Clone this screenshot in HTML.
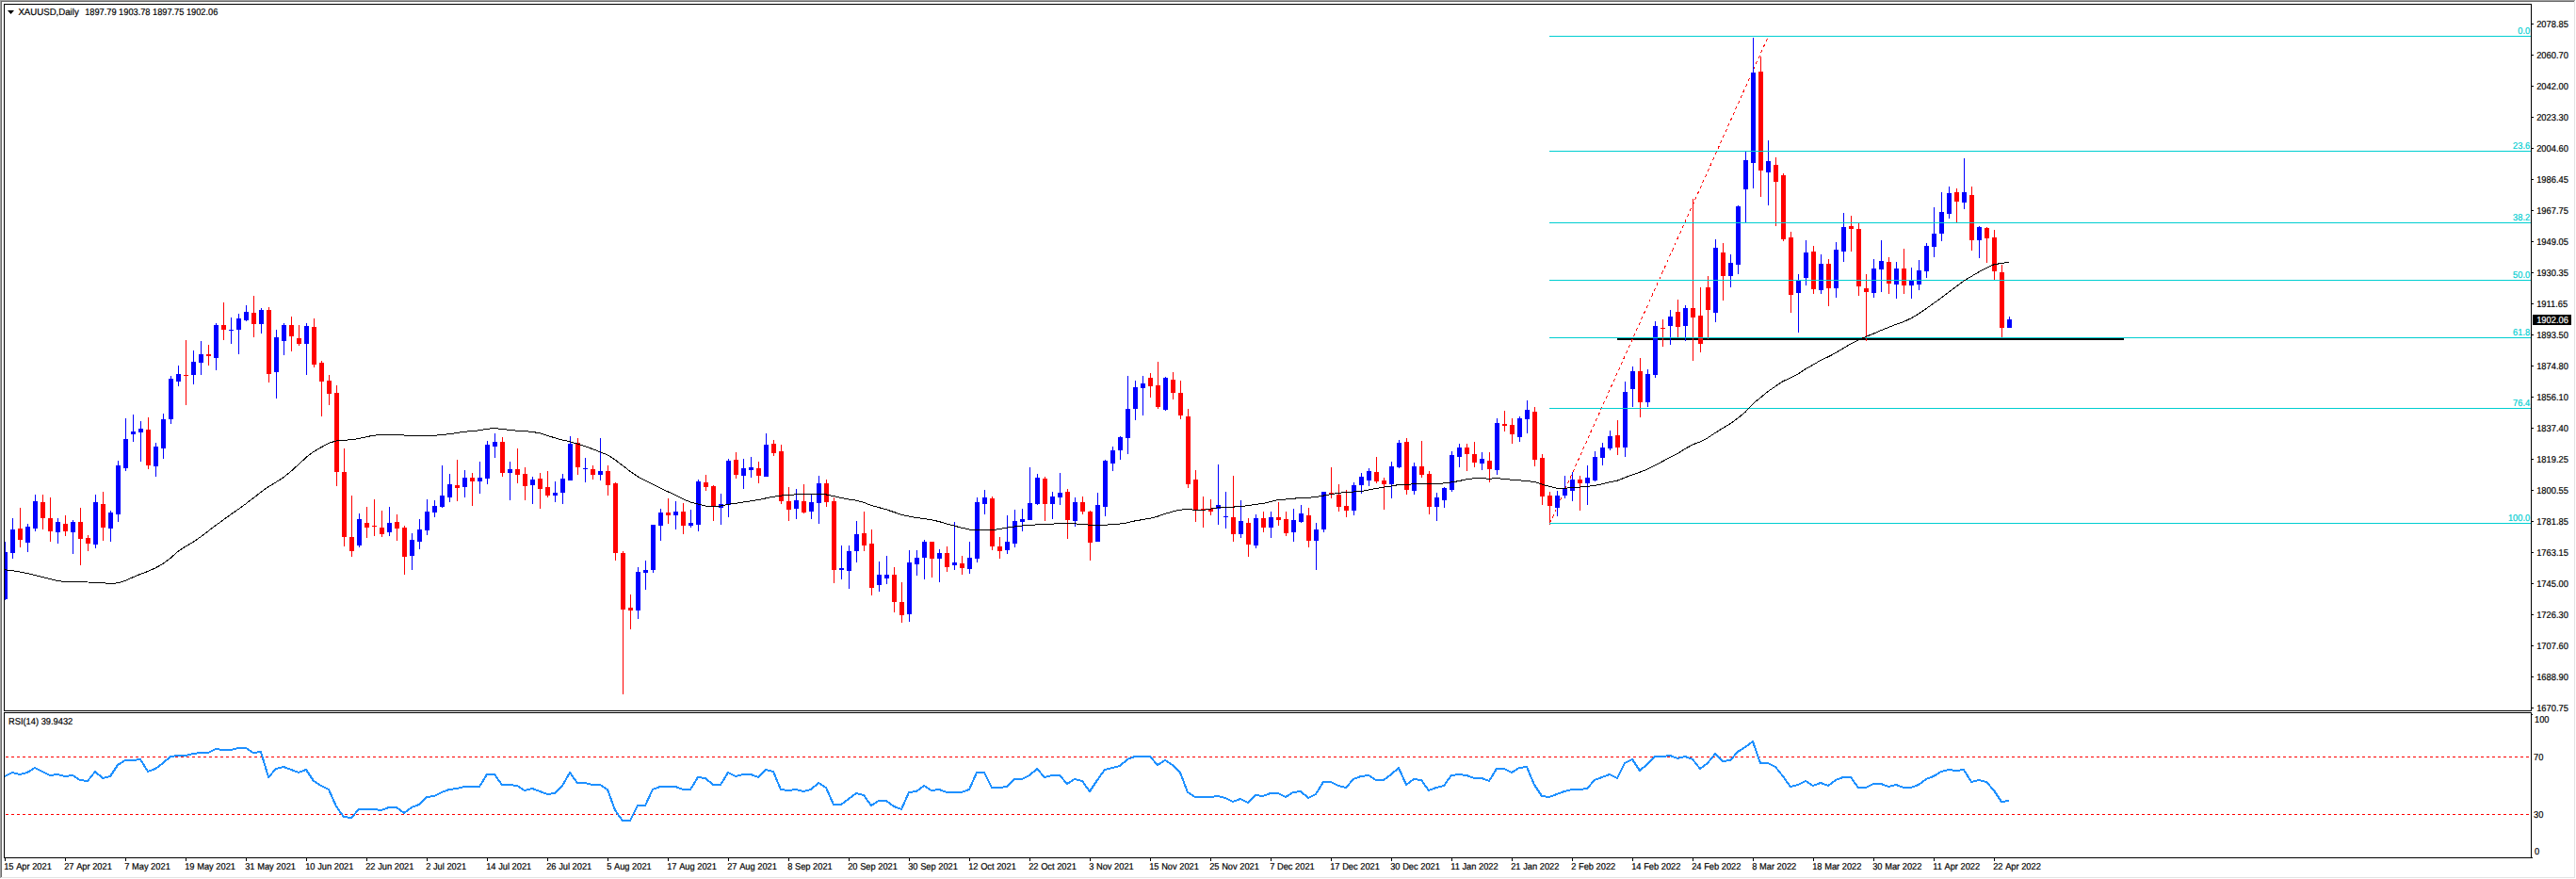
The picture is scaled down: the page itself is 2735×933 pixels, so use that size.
<!DOCTYPE html>
<html><head><meta charset="utf-8"><title>XAUUSD,Daily</title>
<style>html,body{margin:0;padding:0;background:#fff;}body{width:2735px;height:933px;overflow:hidden;font-family:"Liberation Sans",sans-serif;}svg{display:block;position:absolute;left:0;top:0;}text{font-family:"Liberation Sans",sans-serif;font-size:10.0px;text-rendering:geometricPrecision;stroke-width:0.2px;}</style>
</head><body>
<svg width="2735" height="933" viewBox="0 0 2735 933">
<rect x="0" y="0" width="2735" height="933" fill="#ffffff"/>
<g shape-rendering="crispEdges">
<rect x="0" y="0" width="2734" height="1" fill="#a0a0a0"/>
<rect x="0" y="0" width="1" height="932" fill="#a0a0a0"/>
<rect x="1" y="1" width="2732" height="1" fill="#696969"/>
<rect x="1" y="1" width="1" height="930" fill="#696969"/>
<rect x="2733" y="1" width="1" height="931" fill="#e3e3e3"/>
<rect x="1" y="931" width="2733" height="1" fill="#e3e3e3"/>
<rect x="4" y="4" width="2684" height="1" fill="#000"/>
<rect x="4" y="4" width="1" height="907" fill="#000"/>
<rect x="2687" y="4" width="1" height="907" fill="#000"/>
<rect x="4" y="754" width="2684" height="1" fill="#000"/>
<rect x="4" y="755" width="2684" height="1" fill="#fff"/>
<rect x="4" y="756" width="2684" height="1" fill="#000"/>
<rect x="4" y="910" width="2685" height="1" fill="#000"/>
<rect x="2688" y="25" width="2" height="1" fill="#000"/>
<rect x="2688" y="58" width="2" height="1" fill="#000"/>
<rect x="2688" y="91" width="2" height="1" fill="#000"/>
<rect x="2688" y="124" width="2" height="1" fill="#000"/>
<rect x="2688" y="157" width="2" height="1" fill="#000"/>
<rect x="2688" y="190" width="2" height="1" fill="#000"/>
<rect x="2688" y="223" width="2" height="1" fill="#000"/>
<rect x="2688" y="256" width="2" height="1" fill="#000"/>
<rect x="2688" y="289" width="2" height="1" fill="#000"/>
<rect x="2688" y="322" width="2" height="1" fill="#000"/>
<rect x="2688" y="355" width="2" height="1" fill="#000"/>
<rect x="2688" y="388" width="2" height="1" fill="#000"/>
<rect x="2688" y="421" width="2" height="1" fill="#000"/>
<rect x="2688" y="454" width="2" height="1" fill="#000"/>
<rect x="2688" y="487" width="2" height="1" fill="#000"/>
<rect x="2688" y="520" width="2" height="1" fill="#000"/>
<rect x="2688" y="553" width="2" height="1" fill="#000"/>
<rect x="2688" y="586" width="2" height="1" fill="#000"/>
<rect x="2688" y="619" width="2" height="1" fill="#000"/>
<rect x="2688" y="652" width="2" height="1" fill="#000"/>
<rect x="2688" y="685" width="2" height="1" fill="#000"/>
<rect x="2688" y="718" width="2" height="1" fill="#000"/>
<rect x="2688" y="751" width="2" height="1" fill="#000"/>
<rect x="2688" y="758" width="1" height="1" fill="#000"/>
<rect x="5" y="911" width="1" height="3" fill="#000"/>
<rect x="69" y="911" width="1" height="3" fill="#000"/>
<rect x="133" y="911" width="1" height="3" fill="#000"/>
<rect x="197" y="911" width="1" height="3" fill="#000"/>
<rect x="261" y="911" width="1" height="3" fill="#000"/>
<rect x="325" y="911" width="1" height="3" fill="#000"/>
<rect x="389" y="911" width="1" height="3" fill="#000"/>
<rect x="453" y="911" width="1" height="3" fill="#000"/>
<rect x="517" y="911" width="1" height="3" fill="#000"/>
<rect x="581" y="911" width="1" height="3" fill="#000"/>
<rect x="645" y="911" width="1" height="3" fill="#000"/>
<rect x="709" y="911" width="1" height="3" fill="#000"/>
<rect x="773" y="911" width="1" height="3" fill="#000"/>
<rect x="837" y="911" width="1" height="3" fill="#000"/>
<rect x="901" y="911" width="1" height="3" fill="#000"/>
<rect x="965" y="911" width="1" height="3" fill="#000"/>
<rect x="1029" y="911" width="1" height="3" fill="#000"/>
<rect x="1093" y="911" width="1" height="3" fill="#000"/>
<rect x="1157" y="911" width="1" height="3" fill="#000"/>
<rect x="1221" y="911" width="1" height="3" fill="#000"/>
<rect x="1285" y="911" width="1" height="3" fill="#000"/>
<rect x="1349" y="911" width="1" height="3" fill="#000"/>
<rect x="1413" y="911" width="1" height="3" fill="#000"/>
<rect x="1477" y="911" width="1" height="3" fill="#000"/>
<rect x="1541" y="911" width="1" height="3" fill="#000"/>
<rect x="1605" y="911" width="1" height="3" fill="#000"/>
<rect x="1669" y="911" width="1" height="3" fill="#000"/>
<rect x="1733" y="911" width="1" height="3" fill="#000"/>
<rect x="1797" y="911" width="1" height="3" fill="#000"/>
<rect x="1861" y="911" width="1" height="3" fill="#000"/>
<rect x="1925" y="911" width="1" height="3" fill="#000"/>
<rect x="1989" y="911" width="1" height="3" fill="#000"/>
<rect x="2053" y="911" width="1" height="3" fill="#000"/>
<rect x="2117" y="911" width="1" height="3" fill="#000"/>
<rect x="1717" y="359" width="538" height="2" fill="#000"/>
</g>
<g shape-rendering="crispEdges" stroke="#ff0000" stroke-width="1" fill="none">
<line x1="6" y1="803.5" x2="2687" y2="803.5" stroke-dasharray="3 3"/>
<line x1="6" y1="864.5" x2="2687" y2="864.5" stroke-dasharray="3 3"/>
</g>
<line x1="1645.5" y1="555.5" x2="1877.5" y2="38.5" stroke="#ff0000" stroke-width="1" stroke-dasharray="3.3 3.3" shape-rendering="crispEdges" fill="none"/>
<g shape-rendering="crispEdges">
<path fill="#0000ff" d="M5 575h1v62h-1zM5 586h3v50h-3zM13 550h1v43h-1zM11 562h5v25h-5zM29 556h1v30h-1zM27 559h5v17h-5zM37 525h1v39h-1zM35 532h5v29h-5zM61 550h1v27h-1zM59 554h5v11h-5zM77 552h1v36h-1zM75 554h5v11h-5zM101 525h1v57h-1zM99 533h5v45h-5zM117 542h1v33h-1zM115 544h5v17h-5zM125 489h1v65h-1zM123 494h5v52h-5zM133 444h1v56h-1zM131 466h5v31h-5zM141 440h1v29h-1zM139 458h5v3h-5zM149 447h1v43h-1zM147 455h5v4h-5zM165 470h1v36h-1zM163 474h5v21h-5zM173 439h1v48h-1zM171 445h5v31h-5zM181 399h1v51h-1zM179 402h5v43h-5zM189 388h1v22h-1zM187 397h5v8h-5zM205 372h1v36h-1zM203 384h5v14h-5zM213 362h1v36h-1zM211 376h5v9h-5zM229 343h1v50h-1zM227 345h5v35h-5zM245 337h1v28h-1zM243 350h5v1h-5zM253 333h1v43h-1zM251 338h5v12h-5zM261 324h1v17h-1zM259 331h5v9h-5zM277 327h1v27h-1zM275 329h5v15h-5zM293 350h1v73h-1zM291 358h5v37h-5zM301 343h1v34h-1zM299 345h5v17h-5zM325 343h1v55h-1zM323 346h5v19h-5zM381 545h1v36h-1zM379 551h5v28h-5zM413 538h1v31h-1zM411 555h5v10h-5zM437 566h1v39h-1zM435 573h5v17h-5zM445 551h1v32h-1zM443 562h5v13h-5zM453 530h1v38h-1zM451 543h5v20h-5zM461 531h1v18h-1zM459 537h5v7h-5zM469 494h1v45h-1zM467 526h5v12h-5zM477 503h1v30h-1zM475 514h5v14h-5zM493 499h1v29h-1zM491 507h5v10h-5zM509 490h1v34h-1zM507 507h5v4h-5zM517 468h1v46h-1zM515 472h5v36h-5zM525 460h1v26h-1zM523 469h5v5h-5zM541 490h1v41h-1zM539 498h5v4h-5zM565 506h1v29h-1zM563 509h5v6h-5zM589 511h1v22h-1zM587 523h5v3h-5zM597 503h1v32h-1zM595 508h5v15h-5zM605 463h1v47h-1zM603 471h5v39h-5zM621 486h1v26h-1zM619 497h5v1h-5zM637 465h1v45h-1zM635 500h5v4h-5zM677 602h1v55h-1zM675 607h5v41h-5zM685 595h1v31h-1zM683 605h5v3h-5zM693 557h1v51h-1zM691 557h5v48h-5zM701 540h1v34h-1zM699 544h5v14h-5zM717 532h1v30h-1zM715 543h5v4h-5zM733 541h1v19h-1zM731 555h5v3h-5zM741 509h1v55h-1zM739 511h5v46h-5zM765 524h1v33h-1zM763 535h5v4h-5zM773 487h1v62h-1zM771 489h5v47h-5zM789 487h1v32h-1zM787 497h5v8h-5zM797 485h1v22h-1zM795 496h5v3h-5zM813 460h1v46h-1zM811 472h5v34h-5zM845 519h1v32h-1zM843 531h5v9h-5zM861 525h1v26h-1zM859 533h5v10h-5zM869 505h1v51h-1zM867 513h5v21h-5zM893 579h1v36h-1zM891 603h5v2h-5zM901 579h1v46h-1zM899 585h5v21h-5zM909 553h1v44h-1zM907 567h5v18h-5zM933 596h1v32h-1zM931 610h5v11h-5zM941 590h1v30h-1zM939 610h5v4h-5zM965 584h1v76h-1zM963 597h5v55h-5zM973 584h1v27h-1zM971 592h5v7h-5zM981 573h1v42h-1zM979 575h5v17h-5zM997 583h1v35h-1zM995 587h5v6h-5zM1013 554h1v51h-1zM1011 597h5v3h-5zM1029 575h1v34h-1zM1027 592h5v12h-5zM1037 528h1v69h-1zM1035 533h5v60h-5zM1045 520h1v26h-1zM1043 528h5v7h-5zM1069 547h1v41h-1zM1067 575h5v9h-5zM1077 541h1v40h-1zM1075 553h5v24h-5zM1085 540h1v24h-1zM1083 551h5v3h-5zM1093 496h1v56h-1zM1091 534h5v18h-5zM1101 503h1v33h-1zM1099 507h5v28h-5zM1117 522h1v29h-1zM1115 527h5v8h-5zM1125 502h1v34h-1zM1123 523h5v5h-5zM1141 528h1v31h-1zM1139 533h5v20h-5zM1165 523h1v52h-1zM1163 536h5v39h-5zM1173 488h1v60h-1zM1171 489h5v49h-5zM1181 474h1v26h-1zM1179 478h5v14h-5zM1189 463h1v25h-1zM1187 464h5v14h-5zM1197 399h1v83h-1zM1195 434h5v31h-5zM1205 404h1v42h-1zM1203 411h5v23h-5zM1213 399h1v42h-1zM1211 407h5v5h-5zM1237 400h1v36h-1zM1235 401h5v34h-5zM1293 493h1v64h-1zM1291 536h5v4h-5zM1301 522h1v39h-1zM1299 548h5v1h-5zM1317 531h1v40h-1zM1315 553h5v14h-5zM1333 546h1v36h-1zM1331 550h5v29h-5zM1349 543h1v28h-1zM1347 549h5v11h-5zM1373 540h1v35h-1zM1371 552h5v13h-5zM1381 536h1v19h-1zM1379 545h5v9h-5zM1397 555h1v50h-1zM1395 562h5v12h-5zM1405 522h1v43h-1zM1403 522h5v40h-5zM1437 512h1v35h-1zM1435 515h5v27h-5zM1445 502h1v22h-1zM1443 506h5v9h-5zM1453 497h1v19h-1zM1451 500h5v10h-5zM1477 490h1v39h-1zM1475 495h5v19h-5zM1485 467h1v30h-1zM1483 470h5v26h-5zM1501 491h1v34h-1zM1499 495h5v26h-5zM1525 523h1v30h-1zM1523 528h5v10h-5zM1533 517h1v22h-1zM1531 518h5v13h-5zM1541 479h1v43h-1zM1539 483h5v37h-5zM1549 471h1v25h-1zM1547 475h5v10h-5zM1573 480h1v19h-1zM1571 487h5v5h-5zM1589 444h1v60h-1zM1587 449h5v50h-5zM1613 442h1v27h-1zM1611 444h5v20h-5zM1621 425h1v35h-1zM1619 435h5v10h-5zM1653 521h1v27h-1zM1651 526h5v13h-5zM1661 505h1v24h-1zM1659 519h5v7h-5zM1669 501h1v31h-1zM1667 509h5v12h-5zM1685 494h1v42h-1zM1683 507h5v6h-5zM1693 479h1v32h-1zM1691 485h5v25h-5zM1701 470h1v24h-1zM1699 475h5v11h-5zM1709 457h1v21h-1zM1707 463h5v13h-5zM1725 405h1v80h-1zM1723 416h5v59h-5zM1733 389h1v43h-1zM1731 394h5v19h-5zM1749 392h1v40h-1zM1747 397h5v30h-5zM1757 341h1v60h-1zM1755 346h5v52h-5zM1773 329h1v37h-1zM1771 336h5v10h-5zM1789 324h1v38h-1zM1787 327h5v19h-5zM1821 254h1v88h-1zM1819 263h5v69h-5zM1837 270h1v35h-1zM1835 279h5v14h-5zM1845 218h1v73h-1zM1843 219h5v62h-5zM1853 161h1v75h-1zM1851 170h5v31h-5zM1861 40h1v160h-1zM1859 77h5v96h-5zM1877 149h1v69h-1zM1875 171h5v12h-5zM1909 291h1v62h-1zM1907 298h5v13h-5zM1917 255h1v48h-1zM1915 268h5v27h-5zM1933 270h1v42h-1zM1931 280h5v28h-5zM1949 257h1v59h-1zM1947 265h5v41h-5zM1957 226h1v52h-1zM1955 241h5v26h-5zM1989 275h1v41h-1zM1987 285h5v26h-5zM1997 255h1v55h-1zM1995 277h5v9h-5zM2013 278h1v39h-1zM2011 285h5v17h-5zM2029 284h1v33h-1zM2027 298h5v5h-5zM2037 276h1v32h-1zM2035 287h5v15h-5zM2045 258h1v37h-1zM2043 261h5v27h-5zM2053 220h1v53h-1zM2051 248h5v14h-5zM2061 204h1v52h-1zM2059 225h5v23h-5zM2069 198h1v34h-1zM2067 205h5v22h-5zM2085 168h1v54h-1zM2083 204h5v11h-5zM2101 240h1v34h-1zM2099 241h5v14h-5zM2133 336h1v12h-1zM2131 339h5v9h-5z"/>
<path fill="#ff0000" d="M21 539h1v42h-1zM19 561h5v12h-5zM45 525h1v37h-1zM43 533h5v17h-5zM53 528h1v47h-1zM51 550h5v14h-5zM69 547h1v22h-1zM67 556h5v8h-5zM85 539h1v61h-1zM83 554h5v18h-5zM93 568h1v17h-1zM91 571h5v6h-5zM109 522h1v52h-1zM107 535h5v25h-5zM157 443h1v55h-1zM155 456h5v38h-5zM197 361h1v69h-1zM195 398h5v1h-5zM221 366h1v22h-1zM219 376h5v2h-5zM237 321h1v40h-1zM235 345h5v5h-5zM269 314h1v44h-1zM267 332h5v12h-5zM285 326h1v80h-1zM283 329h5v68h-5zM309 336h1v37h-1zM307 345h5v12h-5zM317 345h1v22h-1zM315 359h5v6h-5zM333 338h1v52h-1zM331 347h5v40h-5zM341 383h1v59h-1zM339 385h5v20h-5zM349 398h1v32h-1zM347 404h5v14h-5zM357 409h1v107h-1zM355 417h5v84h-5zM365 476h1v104h-1zM363 501h5v69h-5zM373 526h1v65h-1zM371 570h5v15h-5zM389 538h1v33h-1zM387 555h5v5h-5zM397 530h1v39h-1zM395 558h5v1h-5zM405 542h1v28h-1zM403 560h5v7h-5zM421 546h1v28h-1zM419 554h5v7h-5zM429 558h1v52h-1zM427 560h5v31h-5zM485 488h1v44h-1zM483 515h5v3h-5zM501 502h1v35h-1zM499 507h5v4h-5zM533 464h1v42h-1zM531 469h5v33h-5zM549 476h1v37h-1zM547 498h5v6h-5zM557 496h1v35h-1zM555 503h5v13h-5zM573 502h1v38h-1zM571 508h5v11h-5zM581 500h1v28h-1zM579 517h5v9h-5zM613 465h1v39h-1zM611 470h5v26h-5zM629 494h1v15h-1zM627 498h5v6h-5zM645 494h1v32h-1zM643 500h5v15h-5zM653 512h1v83h-1zM651 513h5v74h-5zM661 585h1v152h-1zM659 587h5v60h-5zM669 631h1v37h-1zM667 645h5v3h-5zM709 529h1v27h-1zM707 544h5v3h-5zM725 534h1v33h-1zM723 543h5v15h-5zM749 504h1v17h-1zM747 512h5v5h-5zM757 515h1v38h-1zM755 516h5v22h-5zM781 480h1v28h-1zM779 488h5v16h-5zM805 490h1v23h-1zM803 497h5v8h-5zM821 467h1v17h-1zM819 471h5v10h-5zM829 472h1v63h-1zM827 479h5v53h-5zM837 517h1v36h-1zM835 532h5v9h-5zM853 514h1v31h-1zM851 532h5v12h-5zM877 509h1v29h-1zM875 513h5v20h-5zM885 528h1v91h-1zM883 532h5v73h-5zM917 543h1v42h-1zM915 566h5v13h-5zM925 562h1v70h-1zM923 577h5v47h-5zM949 602h1v48h-1zM947 610h5v29h-5zM957 618h1v43h-1zM955 639h5v14h-5zM989 575h1v38h-1zM987 575h5v18h-5zM1005 580h1v27h-1zM1003 587h5v15h-5zM1021 590h1v20h-1zM1019 598h5v5h-5zM1053 527h1v57h-1zM1051 529h5v51h-5zM1061 570h1v23h-1zM1059 580h5v5h-5zM1109 506h1v47h-1zM1107 508h5v27h-5zM1133 519h1v53h-1zM1131 522h5v30h-5zM1149 527h1v19h-1zM1147 533h5v10h-5zM1157 542h1v53h-1zM1155 543h5v33h-5zM1221 396h1v26h-1zM1219 401h5v9h-5zM1229 384h1v50h-1zM1227 409h5v23h-5zM1245 395h1v29h-1zM1243 403h5v14h-5zM1253 404h1v41h-1zM1251 417h5v24h-5zM1261 434h1v84h-1zM1259 442h5v72h-5zM1269 499h1v55h-1zM1267 509h5v33h-5zM1277 527h1v33h-1zM1275 540h5v2h-5zM1285 530h1v17h-1zM1283 540h5v3h-5zM1309 505h1v70h-1zM1307 549h5v18h-5zM1325 550h1v41h-1zM1323 555h5v23h-5zM1341 543h1v22h-1zM1339 550h5v10h-5zM1357 533h1v25h-1zM1355 549h5v3h-5zM1365 543h1v26h-1zM1363 551h5v15h-5zM1389 539h1v42h-1zM1387 547h5v27h-5zM1413 496h1v33h-1zM1411 523h5v2h-5zM1421 514h1v29h-1zM1419 525h5v13h-5zM1429 520h1v29h-1zM1427 537h5v5h-5zM1461 485h1v28h-1zM1459 501h5v10h-5zM1469 507h1v34h-1zM1467 510h5v4h-5zM1493 465h1v60h-1zM1491 469h5v51h-5zM1509 468h1v39h-1zM1507 495h5v9h-5zM1517 500h1v46h-1zM1515 503h5v35h-5zM1557 471h1v29h-1zM1555 475h5v7h-5zM1565 469h1v27h-1zM1563 482h5v9h-5zM1581 480h1v32h-1zM1579 489h5v9h-5zM1597 436h1v22h-1zM1595 450h5v2h-5zM1605 444h1v27h-1zM1603 451h5v10h-5zM1629 432h1v63h-1zM1627 437h5v51h-5zM1637 482h1v54h-1zM1635 486h5v41h-5zM1645 522h1v35h-1zM1643 526h5v11h-5zM1677 505h1v37h-1zM1675 509h5v4h-5zM1717 446h1v37h-1zM1715 462h5v13h-5zM1741 380h1v63h-1zM1739 394h5v33h-5zM1765 339h1v29h-1zM1763 348h5v1h-5zM1781 318h1v40h-1zM1779 331h5v16h-5zM1797 211h1v172h-1zM1795 327h5v10h-5zM1805 305h1v69h-1zM1803 335h5v30h-5zM1813 293h1v67h-1zM1811 305h5v24h-5zM1829 258h1v61h-1zM1827 268h5v25h-5zM1869 60h1v149h-1zM1867 76h5v105h-5zM1885 167h1v73h-1zM1883 175h5v18h-5zM1893 184h1v72h-1zM1891 186h5v68h-5zM1901 246h1v86h-1zM1899 252h5v61h-5zM1925 261h1v51h-1zM1923 267h5v40h-5zM1941 275h1v50h-1zM1939 280h5v26h-5zM1965 229h1v38h-1zM1963 240h5v3h-5zM1973 237h1v77h-1zM1971 243h5v61h-5zM1981 291h1v71h-1zM1979 306h5v4h-5zM2005 273h1v39h-1zM2003 278h5v23h-5zM2021 264h1v48h-1zM2019 285h5v18h-5zM2077 200h1v36h-1zM2075 204h5v10h-5zM2093 198h1v68h-1zM2091 207h5v48h-5zM2109 241h1v38h-1zM2107 242h5v11h-5zM2117 244h1v53h-1zM2115 252h5v36h-5zM2125 281h1v77h-1zM2123 289h5v59h-5z"/>
</g>
<g shape-rendering="crispEdges">
<rect x="1645" y="38" width="1042" height="1" fill="#00ced1"/>
<rect x="1645" y="160" width="1042" height="1" fill="#00ced1"/>
<rect x="1645" y="236" width="1042" height="1" fill="#00ced1"/>
<rect x="1645" y="297" width="1042" height="1" fill="#00ced1"/>
<rect x="1645" y="358" width="1042" height="1" fill="#00ced1"/>
<rect x="1645" y="433" width="1042" height="1" fill="#00ced1"/>
<rect x="1645" y="555" width="1042" height="1" fill="#00ced1"/>
</g>
<polyline fill="none" stroke="#000" stroke-width="1" shape-rendering="crispEdges" points="5,604.7 13,605.7 21,607.0 29,608.6 37,610.6 45,612.6 53,614.6 61,616.6 69,617.5 77,617.7 85,617.9 93,618.0 101,618.2 109,618.6 117,619.8 125,618.8 133,616.5 141,612.8 149,609.4 157,606.5 165,602.9 173,598.5 181,592.3 189,585.4 197,580.0 205,575.3 213,569.9 221,563.8 229,557.7 237,551.9 245,546.1 253,540.5 261,534.8 269,528.7 277,522.3 285,516.6 293,511.9 301,506.7 309,500.2 317,493.0 325,485.5 333,479.5 341,474.8 349,470.3 357,468.0 365,467.4 373,466.7 381,465.5 389,463.7 397,462.1 405,461.7 413,461.6 421,461.3 429,462.0 437,462.8 445,463.0 453,462.6 461,462.3 469,461.5 477,460.7 485,459.6 493,458.2 501,457.7 509,456.7 517,455.2 525,454.7 533,455.4 541,456.3 549,457.2 557,457.7 565,458.4 573,459.8 581,462.3 589,464.8 597,467.0 605,468.7 613,471.1 621,473.5 629,476.6 637,479.7 645,482.9 653,487.9 661,494.2 669,500.3 677,505.8 685,510.0 693,514.0 701,518.0 709,521.8 717,525.4 725,529.6 733,533.0 741,535.1 749,537.1 757,537.8 765,537.1 773,535.2 781,534.3 789,533.0 797,531.8 805,530.6 813,528.9 821,527.3 829,526.1 837,525.5 845,524.8 853,524.8 861,524.8 869,524.5 877,524.9 885,526.6 893,528.5 901,530.0 909,531.2 917,533.3 925,536.4 933,538.6 941,540.8 949,543.5 957,546.3 965,548.0 973,549.5 981,550.5 989,551.9 997,553.5 1005,556.1 1013,558.1 1021,560.2 1029,562.0 1037,562.7 1045,562.9 1053,562.8 1061,561.6 1069,560.1 1077,559.0 1085,558.0 1093,557.5 1101,556.8 1109,556.5 1117,556.2 1125,555.5 1133,555.4 1141,555.9 1149,556.4 1157,557.2 1165,557.2 1173,557.2 1181,556.7 1189,556.0 1197,554.8 1205,552.9 1213,551.6 1221,550.2 1229,548.2 1237,545.4 1245,543.1 1253,541.1 1261,540.7 1269,541.2 1277,541.4 1285,540.2 1293,538.8 1301,538.1 1309,538.1 1317,537.6 1325,536.6 1333,535.4 1341,534.4 1349,532.6 1357,530.6 1365,530.0 1373,529.2 1381,528.6 1389,528.2 1397,527.7 1405,526.1 1413,524.7 1421,523.4 1429,522.3 1437,522.0 1445,521.5 1453,520.0 1461,518.5 1469,517.2 1477,516.1 1485,514.5 1493,514.2 1501,513.9 1509,513.3 1517,513.5 1525,513.6 1533,512.9 1541,511.9 1549,510.6 1557,508.7 1565,507.8 1573,507.8 1581,508.1 1589,507.8 1597,508.2 1605,509.2 1613,509.9 1621,510.4 1629,511.5 1637,514.0 1645,516.4 1653,518.2 1661,518.3 1669,517.6 1677,517.1 1685,516.4 1693,515.3 1701,513.9 1709,511.8 1717,510.2 1725,507.0 1733,503.9 1741,501.2 1749,498.2 1757,494.1 1765,489.8 1773,485.4 1781,481.5 1789,476.5 1797,472.0 1805,468.9 1813,464.9 1821,459.5 1829,454.5 1837,449.8 1845,444.0 1853,437.4 1861,428.8 1869,422.1 1877,415.6 1885,410.1 1893,404.7 1901,401.1 1909,397.0 1917,391.6 1925,387.2 1933,382.4 1941,378.8 1949,374.6 1957,369.8 1965,364.9 1973,361.2 1981,357.4 1989,354.2 1997,350.7 2005,347.5 2013,344.3 2021,341.6 2029,337.9 2037,333.1 2045,327.6 2053,322.0 2061,316.1 2069,310.1 2077,304.1 2085,298.0 2093,293.4 2101,288.7 2109,284.5 2117,280.8 2125,279.4 2133,278.3"/>
<polyline fill="none" stroke="#1e90ff" stroke-width="2" stroke-linejoin="round" shape-rendering="crispEdges" points="5,824 13,820 21,822 29,820 37,815 45,819 53,823 61,822 69,824 77,823 85,828 93,829 101,819 109,826 117,824 125,812 133,807 141,807 149,806 157,819 165,816 173,810 181,803 189,802 197,802 205,800 213,799 221,799 229,795 237,796 245,796 253,794 261,794 269,799 277,798 285,825 293,816 301,814 309,817 317,820 325,817 333,829 341,834 349,838 357,856 365,867 373,868 381,859 389,859 397,859 405,860 413,857 421,857 429,863 437,857 445,854 453,846 461,845 469,841 477,838 485,837 493,835 501,835 509,835 517,822 525,822 533,833 541,833 549,834 557,839 565,837 573,840 581,843 589,842 597,834 605,820 613,831 621,831 629,833 637,833 645,838 653,860 661,871 669,871 677,855 685,855 693,838 701,835 709,835 717,835 725,838 733,838 741,825 749,826 757,833 765,833 773,820 781,824 789,822 797,822 805,825 813,817 821,819 829,838 837,839 845,838 853,840 861,838 869,831 877,836 885,854 893,854 901,848 909,842 917,844 925,855 933,850 941,850 949,856 957,859 965,841 973,840 981,834 989,839 997,838 1005,841 1013,841 1021,841 1029,838 1037,820 1045,820 1053,836 1061,836 1069,835 1077,827 1085,827 1093,823 1101,816 1109,825 1117,823 1125,823 1133,832 1141,827 1149,829 1157,840 1165,828 1173,817 1181,815 1189,813 1197,806 1205,803 1213,803 1221,803 1229,812 1237,807 1245,812 1253,820 1261,841 1269,846 1277,846 1285,846 1293,845 1301,847 1309,851 1317,848 1325,852 1333,844 1341,845 1349,842 1357,842 1365,846 1373,841 1381,840 1389,847 1397,843 1405,830 1413,830 1421,834 1429,836 1437,827 1445,824 1453,823 1461,828 1469,828 1477,822 1485,815 1493,833 1501,827 1509,828 1517,839 1525,836 1533,834 1541,823 1549,822 1557,823 1565,826 1573,826 1581,829 1589,816 1597,816 1605,820 1613,815 1621,814 1629,833 1637,845 1645,846 1653,843 1661,840 1669,838 1677,838 1685,837 1693,828 1701,825 1709,822 1717,826 1725,810 1733,806 1741,818 1749,811 1757,803 1765,803 1773,802 1781,805 1789,803 1797,806 1805,816 1813,810 1821,800 1829,808 1837,807 1845,798 1853,793 1861,787 1869,810 1877,810 1885,814 1893,824 1901,835 1909,833 1917,829 1925,834 1933,831 1941,834 1949,828 1957,825 1965,825 1973,836 1981,836 1989,832 1997,832 2005,835 2013,833 2021,836 2029,836 2037,833 2045,827 2053,824 2061,819 2069,817 2077,818 2085,817 2093,830 2101,828 2109,830 2117,839 2125,851 2133,850"/>
<g fill="#000" stroke="#000">
<path d="M8 11h7l-3.5 4z" fill="#000" stroke="none"/>
<text transform="translate(19.40 16.00) scale(0.9644 1.0000)">XAUUSD,Daily</text>
<text transform="translate(90.20 16.00) scale(0.9226 1.0000)">1897.79&#160;1903.78&#160;1897.75&#160;1902.06</text>
<text transform="translate(9.00 769.00) scale(0.9300 1.0000)">RSI(14)&#160;39.9432</text>
<text transform="translate(2693.20 28.90) scale(0.9300 1.0000)">2078.85</text>
<text transform="translate(2693.20 61.90) scale(0.9300 1.0000)">2060.70</text>
<text transform="translate(2693.20 94.90) scale(0.9300 1.0000)">2042.00</text>
<text transform="translate(2693.20 127.90) scale(0.9300 1.0000)">2023.30</text>
<text transform="translate(2693.20 160.90) scale(0.9300 1.0000)">2004.60</text>
<text transform="translate(2693.20 193.90) scale(0.9300 1.0000)">1986.45</text>
<text transform="translate(2693.20 226.90) scale(0.9300 1.0000)">1967.75</text>
<text transform="translate(2693.20 259.90) scale(0.9300 1.0000)">1949.05</text>
<text transform="translate(2693.20 292.90) scale(0.9300 1.0000)">1930.35</text>
<text transform="translate(2693.20 325.90) scale(0.9300 1.0000)">1911.65</text>
<text transform="translate(2693.20 358.90) scale(0.9300 1.0000)">1893.50</text>
<text transform="translate(2693.20 391.90) scale(0.9300 1.0000)">1874.80</text>
<text transform="translate(2693.20 424.90) scale(0.9300 1.0000)">1856.10</text>
<text transform="translate(2693.20 457.90) scale(0.9300 1.0000)">1837.40</text>
<text transform="translate(2693.20 490.90) scale(0.9300 1.0000)">1819.25</text>
<text transform="translate(2693.20 523.90) scale(0.9300 1.0000)">1800.55</text>
<text transform="translate(2693.20 556.90) scale(0.9300 1.0000)">1781.85</text>
<text transform="translate(2693.20 589.90) scale(0.9300 1.0000)">1763.15</text>
<text transform="translate(2693.20 622.90) scale(0.9300 1.0000)">1745.00</text>
<text transform="translate(2693.20 655.90) scale(0.9300 1.0000)">1726.30</text>
<text transform="translate(2693.20 688.90) scale(0.9300 1.0000)">1707.60</text>
<text transform="translate(2693.20 721.90) scale(0.9300 1.0000)">1688.90</text>
<text transform="translate(2693.20 754.90) scale(0.9300 1.0000)">1670.75</text>
<text transform="translate(4.20 923.20) scale(0.9300 1.0000)">15&#160;Apr&#160;2021</text>
<text transform="translate(68.20 923.20) scale(0.9300 1.0000)">27&#160;Apr&#160;2021</text>
<text transform="translate(132.20 923.20) scale(0.9300 1.0000)">7&#160;May&#160;2021</text>
<text transform="translate(196.20 923.20) scale(0.9300 1.0000)">19&#160;May&#160;2021</text>
<text transform="translate(260.20 923.20) scale(0.9300 1.0000)">31&#160;May&#160;2021</text>
<text transform="translate(324.20 923.20) scale(0.9300 1.0000)">10&#160;Jun&#160;2021</text>
<text transform="translate(388.20 923.20) scale(0.9300 1.0000)">22&#160;Jun&#160;2021</text>
<text transform="translate(452.20 923.20) scale(0.9300 1.0000)">2&#160;Jul&#160;2021</text>
<text transform="translate(516.20 923.20) scale(0.9300 1.0000)">14&#160;Jul&#160;2021</text>
<text transform="translate(580.20 923.20) scale(0.9300 1.0000)">26&#160;Jul&#160;2021</text>
<text transform="translate(644.20 923.20) scale(0.9300 1.0000)">5&#160;Aug&#160;2021</text>
<text transform="translate(708.20 923.20) scale(0.9300 1.0000)">17&#160;Aug&#160;2021</text>
<text transform="translate(772.20 923.20) scale(0.9300 1.0000)">27&#160;Aug&#160;2021</text>
<text transform="translate(836.20 923.20) scale(0.9300 1.0000)">8&#160;Sep&#160;2021</text>
<text transform="translate(900.20 923.20) scale(0.9300 1.0000)">20&#160;Sep&#160;2021</text>
<text transform="translate(964.20 923.20) scale(0.9300 1.0000)">30&#160;Sep&#160;2021</text>
<text transform="translate(1028.20 923.20) scale(0.9300 1.0000)">12&#160;Oct&#160;2021</text>
<text transform="translate(1092.20 923.20) scale(0.9300 1.0000)">22&#160;Oct&#160;2021</text>
<text transform="translate(1156.20 923.20) scale(0.9300 1.0000)">3&#160;Nov&#160;2021</text>
<text transform="translate(1220.20 923.20) scale(0.9300 1.0000)">15&#160;Nov&#160;2021</text>
<text transform="translate(1284.20 923.20) scale(0.9300 1.0000)">25&#160;Nov&#160;2021</text>
<text transform="translate(1348.20 923.20) scale(0.9300 1.0000)">7&#160;Dec&#160;2021</text>
<text transform="translate(1412.20 923.20) scale(0.9300 1.0000)">17&#160;Dec&#160;2021</text>
<text transform="translate(1476.20 923.20) scale(0.9300 1.0000)">30&#160;Dec&#160;2021</text>
<text transform="translate(1540.20 923.20) scale(0.9300 1.0000)">11&#160;Jan&#160;2022</text>
<text transform="translate(1604.20 923.20) scale(0.9300 1.0000)">21&#160;Jan&#160;2022</text>
<text transform="translate(1668.20 923.20) scale(0.9300 1.0000)">2&#160;Feb&#160;2022</text>
<text transform="translate(1732.20 923.20) scale(0.9300 1.0000)">14&#160;Feb&#160;2022</text>
<text transform="translate(1796.20 923.20) scale(0.9300 1.0000)">24&#160;Feb&#160;2022</text>
<text transform="translate(1860.20 923.20) scale(0.9300 1.0000)">8&#160;Mar&#160;2022</text>
<text transform="translate(1924.20 923.20) scale(0.9300 1.0000)">18&#160;Mar&#160;2022</text>
<text transform="translate(1988.20 923.20) scale(0.9300 1.0000)">30&#160;Mar&#160;2022</text>
<text transform="translate(2052.20 923.20) scale(0.9300 1.0000)">11&#160;Apr&#160;2022</text>
<text transform="translate(2116.20 923.20) scale(0.9300 1.0000)">22&#160;Apr&#160;2022</text>
<text transform="translate(2691.00 767.20) scale(0.9300 1.0000)">100</text>
<text transform="translate(2690.00 807.00) scale(0.9300 1.0000)">70</text>
<text transform="translate(2690.00 868.00) scale(0.9300 1.0000)">30</text>
<text transform="translate(2691.00 907.00) scale(0.9300 1.0000)">0</text>
</g>
<g>
<text transform="translate(2686.20 36.00) scale(0.9300 1.0000)" text-anchor="end" fill="#00ced1" stroke="#00ced1">0.0</text>
<text transform="translate(2686.20 158.00) scale(0.9300 1.0000)" text-anchor="end" fill="#00ced1" stroke="#00ced1">23.6</text>
<text transform="translate(2686.20 234.00) scale(0.9300 1.0000)" text-anchor="end" fill="#00ced1" stroke="#00ced1">38.2</text>
<text transform="translate(2686.20 295.00) scale(0.9300 1.0000)" text-anchor="end" fill="#00ced1" stroke="#00ced1">50.0</text>
<text transform="translate(2686.20 356.00) scale(0.9300 1.0000)" text-anchor="end" fill="#00ced1" stroke="#00ced1">61.8</text>
<text transform="translate(2686.20 431.00) scale(0.9300 1.0000)" text-anchor="end" fill="#00ced1" stroke="#00ced1">76.4</text>
<text transform="translate(2686.20 553.00) scale(0.9300 1.0000)" text-anchor="end" fill="#00ced1" stroke="#00ced1">100.0</text>
</g>
<rect x="2689" y="334" width="41" height="11" fill="#000" shape-rendering="crispEdges"/>
<text transform="translate(2693.20 342.90) scale(0.9300 1.0000)" fill="#fff" stroke="#fff">1902.06</text>
</svg></body></html>
